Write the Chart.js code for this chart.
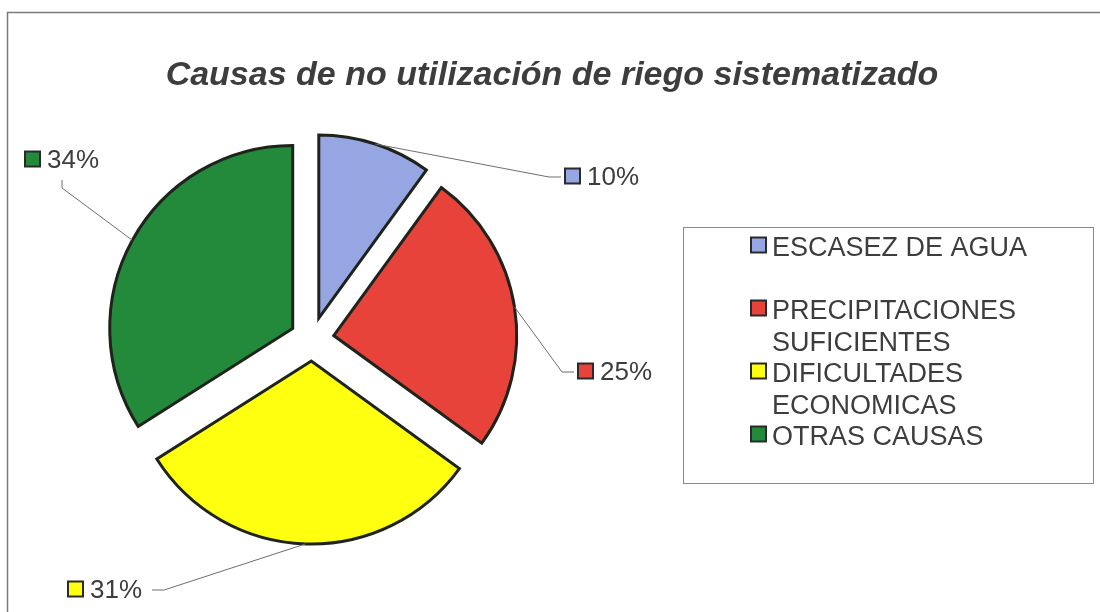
<!DOCTYPE html>
<html lang="es">
<head>
<meta charset="utf-8">
<title>Causas de no utilización de riego sistematizado</title>
<script src="https://cdn.jsdelivr.net/npm/chart.js@4.4.1/dist/chart.umd.min.js"></script>
<style>
  html, body { margin: 0; padding: 0; background: #ffffff; }
  #wrap { width: 1100px; height: 612px; position: relative; }
</style>
</head>
<body>
<div id="wrap"><canvas id="pie" width="1100" height="612"></canvas></div>
<script>
// Data
const chartTitle = 'Causas de no utilización de riego sistematizado';
const categories = ['ESCASEZ DE AGUA', 'PRECIPITACIONES SUFICIENTES', 'DIFICULTADES ECONOMICAS', 'OTRAS CAUSAS'];
const shares = [10, 25, 31, 34];
const sliceColors = ['#96a6e2', '#e8433a', '#ffff10', '#23893b'];

// Layout and styling
const FONT = '"Liberation Sans", Arial, sans-serif';
const TEXT_COLOR = '#3d3d3d';
const EDGE_COLOR = '#1e241c';
const pieRadius = 183;      // outer radius of each slice
const explode = 22;         // distance each slice is pulled out along its bisector
// Percentage labels: offset of the marker's left edge / text middle from the pie centre,
// and the side on which the leader line reaches the label.
const labelPlacement = [
  { dx: 253, dy: -162, side: 'left' },
  { dx: 266, dy: 33, side: 'left' },
  { dx: -244, dy: 251, side: 'right' },
  { dx: -287, dy: -179, side: 'below' }
];
const legendBox = { left: 683, top: 227, right: 1093, bottom: 483 };

// Draws each slice pulled out along its bisector (a true "exploded" pie).
const explodedSlices = {
  id: 'explodedSlices',
  beforeDatasetDraw(chart, args) {
    const ctx = chart.ctx;
    args.meta.data.forEach(arc => {
      const { startAngle, endAngle } = arc.getProps(['startAngle', 'endAngle'], true);
      const mid = (startAngle + endAngle) / 2;
      ctx.save();
      ctx.translate(Math.cos(mid) * explode, Math.sin(mid) * explode);
      arc.draw(ctx);
      ctx.restore();
    });
    return false;
  }
};

function drawMarker(ctx, x, cy, color) {
  ctx.save();
  ctx.fillStyle = color;
  ctx.strokeStyle = '#2a2a2a';
  ctx.lineWidth = 2;
  ctx.fillRect(x, cy - 7.5, 15, 15);
  ctx.strokeRect(x, cy - 7.5, 15, 15);
  ctx.restore();
}

// Frame, title, percentage labels with leader lines, legend.
const decorations = {
  id: 'decorations',
  beforeDraw(chart) {
    const ctx = chart.ctx;
    ctx.save();
    ctx.fillStyle = '#ffffff';
    ctx.fillRect(0, 0, chart.width, chart.height);
    ctx.strokeStyle = '#7a7a7a';
    ctx.lineWidth = 1.5;
    ctx.beginPath();
    ctx.moveTo(7.5, chart.height);
    ctx.lineTo(7.5, 12.5);
    ctx.lineTo(chart.width, 12.5);
    ctx.stroke();
    ctx.restore();
  },
  afterDraw(chart) {
    const ctx = chart.ctx;
    const meta = chart.getDatasetMeta(0);
    const ds = chart.data.datasets[0];

    // title
    ctx.save();
    ctx.fillStyle = TEXT_COLOR;
    ctx.font = 'italic bold 34px ' + FONT;
    ctx.textAlign = 'center';
    ctx.textBaseline = 'middle';
    ctx.fillText(chartTitle, 552, 76);
    ctx.restore();

    // percentage labels
    ctx.save();
    ctx.font = '26px ' + FONT;
    ctx.textBaseline = 'middle';
    meta.data.forEach((arc, i) => {
      const { x, y, startAngle, endAngle, outerRadius } =
        arc.getProps(['x', 'y', 'startAngle', 'endAngle', 'outerRadius'], true);
      const mid = (startAngle + endAngle) / 2;
      const r = outerRadius + explode;
      const sx = x + Math.cos(mid) * r;
      const sy = y + Math.sin(mid) * r;
      const p = labelPlacement[i];
      const text = ds.data[i] + '%';
      const mx = x + p.dx;
      const my = y + p.dy;
      const tw = ctx.measureText(text).width;
      let ex, ey, kx, ky;
      if (p.side === 'left') {
        ex = mx - 4; ey = my; kx = ex - 12; ky = ey;
      } else if (p.side === 'right') {
        ex = mx + 22 + tw + 10; ey = my; kx = ex + 12; ky = ey;
      } else {
        ex = mx + (22 + tw) / 2; ey = my + 20; kx = ex; ky = ey + 8;
      }
      ctx.strokeStyle = '#6e6e6e';
      ctx.lineWidth = 1;
      ctx.beginPath();
      ctx.moveTo(sx, sy);
      ctx.lineTo(kx, ky);
      ctx.lineTo(ex, ey);
      ctx.stroke();
      drawMarker(ctx, mx, my - 1, ds.backgroundColor[i]);
      ctx.fillStyle = TEXT_COLOR;
      ctx.textAlign = 'left';
      ctx.fillText(text, mx + 22, my + 1);
    });
    ctx.restore();

    // legend
    ctx.save();
    ctx.strokeStyle = '#8a8a8a';
    ctx.lineWidth = 1;
    ctx.strokeRect(legendBox.left + 0.5, legendBox.top + 0.5,
      legendBox.right - legendBox.left, legendBox.bottom - legendBox.top);
    ctx.font = '27px ' + FONT;
    ctx.textBaseline = 'middle';
    ctx.textAlign = 'left';
    const textX = 772;
    const lineH = 31.5;
    const maxW = 290;
    chart.data.labels.forEach((label, i) => {
      // wrap the category name into lines that fit the legend
      const words = label.split(' ');
      const lines = [];
      let cur = '';
      words.forEach(w => {
        const test = cur ? cur + ' ' + w : w;
        if (cur && ctx.measureText(test).width > maxW) { lines.push(cur); cur = w; }
        else cur = test;
      });
      lines.push(cur);
      const y0 = 249 + i * 2 * lineH;
      drawMarker(ctx, 751, y0 - 4, ds.backgroundColor[i]);
      ctx.fillStyle = TEXT_COLOR;
      lines.forEach((ln, k) => ctx.fillText(ln, textX, y0 + k * lineH));
    });
    ctx.restore();
  }
};

new Chart(document.getElementById('pie'), {
  type: 'pie',
  data: {
    labels: categories,
    datasets: [{
      data: shares,
      backgroundColor: sliceColors,
      borderColor: EDGE_COLOR,
      borderWidth: 3,
      borderJoinStyle: 'miter'
    }]
  },
  options: {
    responsive: false,
    animation: false,
    events: [],
    radius: pieRadius,
    layout: { padding: { left: 20, right: 496, top: 130, bottom: 64 } },
    plugins: {
      legend: { display: false },
      title: { display: false },
      tooltip: { enabled: false }
    }
  },
  plugins: [explodedSlices, decorations]
});
</script>
</body>
</html>
